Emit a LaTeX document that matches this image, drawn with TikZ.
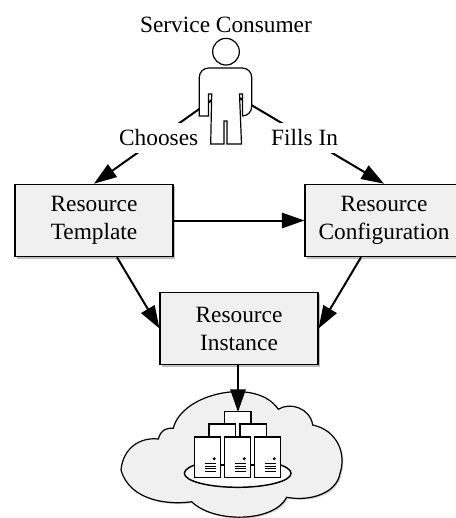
\documentclass[tikz,border=0pt]{standalone}
\usepackage{fontspec}
\setmainfont{Liberation Serif}
\usetikzlibrary{arrows.meta}
\usetikzlibrary{shadows}
\usetikzlibrary{shapes.geometric}

\tikzset{
  res/.style={draw, fill=black!6, line width=0.8pt, minimum width=118.5pt, minimum height=54.4pt, align=center, inner sep=0pt, drop shadow={shadow xshift=1.5pt, shadow yshift=-1.5pt, opacity=0.5}},
  lnk/.style={line width=1.5pt, -{Triangle[length=17pt, width=11.5pt]}},
  lbl/.style={fill=white, inner sep=1pt, minimum height=22.5pt},
  srv/.style={draw, fill=white, line width=1.1pt}
}

\begin{document}
\begin{tikzpicture}[x=0.75pt, y=-0.75pt, font=\fontsize{17.5}{21}\selectfont]
	\useasboundingbox (0,0) rectangle (455,518);

	% Cloud
	\draw[fill=black!6, line width=0.9pt, drop shadow={shadow xshift=1pt, shadow yshift=-1pt, opacity=0.4}]
		(121,470) .. controls (123,448) and (140,437) .. (158.3,439)
		.. controls (161,430) and (165,428) .. (173.3,428.3)
		.. controls (181.7,393) and (256.7,376.7) .. (278.3,409.3)
		.. controls (290,401.7) and (310,408) .. (312.7,425)
		.. controls (336.7,430) and (346.7,453) .. (340,473.3)
		.. controls (336.7,493.3) and (310,501.7) .. (286.7,497.3)
		.. controls (273.3,523) and (213,523) .. (191.7,501.7)
		.. controls (170,505) and (130,501.7) .. (121,470) -- cycle;

	% Servers on their plate
	\node[draw, fill=white, ellipse, line width=1.1pt, minimum width=80pt, minimum height=21pt, inner sep=0pt] (plate) at (237.7,473.3) {};
	\draw[srv] (224.3,411.7) rectangle (251,450);
	\foreach \x in {209,240} {
		\draw[srv] (\x,424) rectangle ++(26.3,41);
	}
	\foreach \x in {194.3,224.3,254.3} {
		\draw[srv] (\x,437) rectangle ++(26.4,40.3);
		\fill (\x+20,458.7) circle (1.2pt);
		\foreach \y in {463.3,466,468.7,471} {
			\draw[line width=0.7pt] (\x+10.5,\y) -- ++(11,0);
		}
	}
	\coordinate (rack) at (238,412);

	% Boxes
	\node[res] (tmpl) at (94,220.5) {Resource\\Template};
	\node[res] (conf) at (384,220.5) {Resource\\Configuration};
	\node[res] (inst) at (239,328.5) {Resource\\Instance};

	% Edges
	\coordinate (consumer) at (226,90);
	\draw[lnk] (consumer) -- node[lbl, pos=0.51] (chooses) {Chooses} (tmpl.north);
	\draw[lnk] (consumer) -- node[lbl, pos=0.51, xshift=-1.5pt] (fills) {Fills In} (conf.north);
	\draw[lnk] (tmpl.east) -- (conf.west);
	\draw[lnk] (tmpl.-58.6) -- (inst.west);
	\draw[lnk] (conf.-122.6) -- (inst.east);
	\draw[lnk] (inst.south -| rack) -- (rack);

	% Service consumer
	\node (title) at (226,25) {Service Consumer};
	\node[draw, circle, line width=0.9pt, fill=white, minimum size=20pt, inner sep=0pt] (head) at (226,51.7) {};
	\draw[line width=0.9pt, fill=white, rounded corners=7pt]
		(199.3,116) -- (199.3,68) -- (251.7,68) -- (251.7,116) [sharp corners]
		-- (242.5,116) -- (242.5,94) -- (239.5,94) -- (241.5,144) -- (227,144)
		-- (227,121) -- (224,121) -- (224,144) -- (210.7,144) -- (211.7,94)
		-- (208.5,94) -- (208.5,116) -- cycle;
\end{tikzpicture}
\end{document}
